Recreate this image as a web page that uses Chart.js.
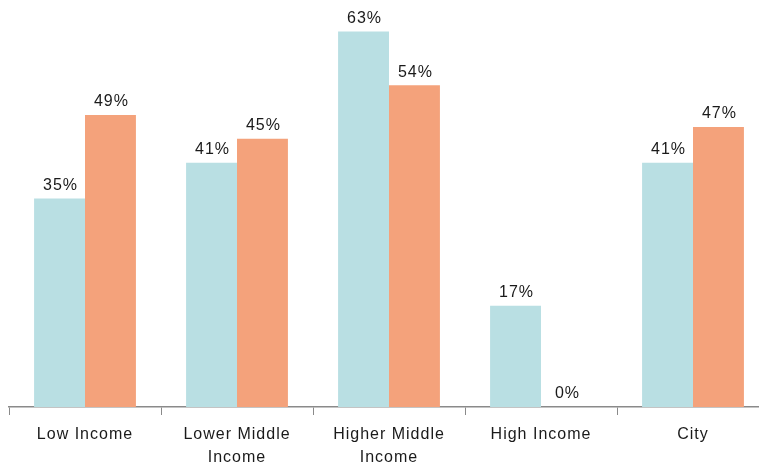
<!DOCTYPE html>
<html>
<head>
<meta charset="utf-8">
<script src="https://cdn.jsdelivr.net/npm/chart.js@4/dist/chart.umd.min.js"></script>
<style>
  html, body { margin: 0; padding: 0; background: #fff; overflow: hidden; }
  #wrap { width: 770px; height: 464px; }
</style>
</head>
<body>
<div id="wrap"><canvas id="incomeChart" width="770" height="464"></canvas></div>
<script>
const categories = [["Low Income"], ["Lower Middle", "Income"], ["Higher Middle", "Income"], ["High Income"], ["City"]];
const seriesA = [35, 41, 63, 17, 41];
const seriesB = [49, 45, 54, 0, 47];

// wide letter spacing like the original
const spacing = {
    id: 'spacing',
    beforeDraw(chart) { chart.ctx.letterSpacing = '1px'; }
};

// draws the % value above every bar
const valueLabels = {
    id: 'valueLabels',
    afterDatasetsDraw(chart) {
        const ctx = chart.ctx;
        ctx.save();
        ctx.font = '16px "Liberation Sans", Arial, sans-serif';
        ctx.letterSpacing = '1px';
        ctx.fillStyle = '#1a1a1a';
        ctx.textAlign = 'center';
        ctx.textBaseline = 'bottom';
        chart.data.datasets.forEach((ds, i) => {
            chart.getDatasetMeta(i).data.forEach((bar, j) => {
                ctx.fillText(ds.data[j] + '%', bar.x + 1, bar.y - 5);
            });
        });
        ctx.restore();
    }
};

new Chart(document.getElementById('incomeChart').getContext('2d'), {
    type: 'bar',
    data: {
        labels: categories,
        datasets: [
            { data: seriesA, backgroundColor: '#b9dfe3' },
            { data: seriesB, backgroundColor: '#f4a27b' }
        ]
    },
    options: {
        responsive: false,
        animation: false,
        layout: { padding: { left: 9, right: 1, top: 0, bottom: 0 } },
        datasets: { bar: { categoryPercentage: 0.67, barPercentage: 1.0 } },
        plugins: { legend: { display: false }, tooltip: { enabled: false } },
        scales: {
            x: {
                grid: { offset: true, drawOnChartArea: false, color: '#8a8a8a', tickLength: 8 },
                border: { color: '#8a8a8a', width: 1.5 },
                ticks: {
                    color: '#1a1a1a',
                    padding: 9,
                    maxRotation: 0,
                    font: { family: '"Liberation Sans", Arial, sans-serif', size: 16, lineHeight: 1.38 }
                },
                afterFit(scale) { scale.height = 57; }
            },
            y: { display: false, min: 0, max: 68.3 }
        }
    },
    plugins: [spacing, valueLabels]
});
</script>
</body>
</html>
